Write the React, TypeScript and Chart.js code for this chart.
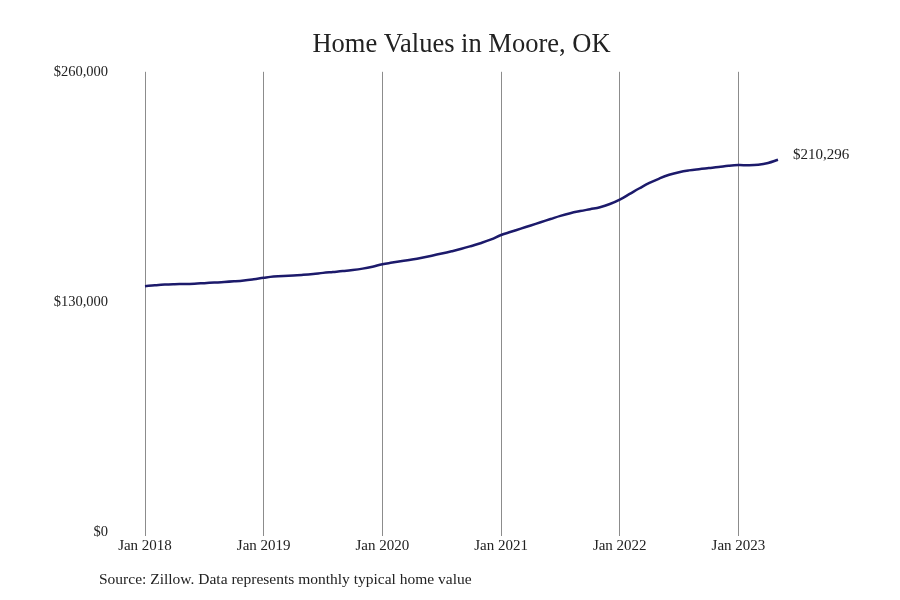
import React, { useEffect, useRef } from "react";
import { Chart, registerables } from "chart.js";

Chart.register(...registerables);

const MONTHS = ["Jan", "Feb", "Mar", "Apr", "May", "Jun", "Jul", "Aug", "Sep", "Oct", "Nov", "Dec"];
const YEARS = [2018, 2019, 2020, 2021, 2022, 2023];

// monthly typical home value, Jan 2018 .. May 2023
const values2018 = [138900, 139400, 139800, 140000, 140100, 140300, 140600, 140900, 141200, 141600, 142100, 142800];
const values2019 = [143600, 144300, 144700, 144900, 145300, 145800, 146400, 146900, 147400, 148000, 148800, 149900];
const values2020 = [151300, 152200, 153100, 154000, 155000, 156100, 157300, 158600, 160000, 161600, 163300, 165300];
const values2021 = [167800, 169600, 171400, 173200, 175000, 176800, 178600, 180100, 181300, 182400, 183500, 185300];
const values2022 = [187800, 191000, 194200, 197200, 199700, 201800, 203300, 204300, 205000, 205600, 206200, 206900];
const values2023 = [207300, 207200, 207500, 208500, 210296];

const yTicks = [0, 130000, 260000];

const values = [...values2018, ...values2019, ...values2020, ...values2021, ...values2022, ...values2023];
const labels = values.map((_, i) => `${MONTHS[i % 12]} ${YEARS[Math.floor(i / 12)]}`);

const SERIF = "'Liberation Serif', serif";
const TEXT = "#222222";
const LINE = "#1c1a6b";

const fmt = (v: number) => "$" + v.toLocaleString("en-US");

const extras = {
  id: "extras",
  afterDraw(chart: any) {
    const { ctx } = chart;
    const meta = chart.getDatasetMeta(0);
    const last = meta.data[meta.data.length - 1];
    ctx.save();
    ctx.fillStyle = TEXT;
    ctx.font = `15px ${SERIF}`;
    ctx.textBaseline = "middle";
    ctx.textAlign = "left";
    ctx.fillText(fmt(values[values.length - 1]), last.x + 15, last.y - 5);
    ctx.font = `15.5px ${SERIF}`;
    ctx.fillText("Source: Zillow. Data represents monthly typical home value", 99, 580);
    ctx.restore();
  },
};

export default function App() {
  const ref = useRef<HTMLCanvasElement>(null);

  useEffect(() => {
    document.body.style.margin = "0";
    const ctx = ref.current?.getContext("2d");
    if (!ctx) return;
    const chart = new Chart(ctx, {
      type: "line",
      data: {
        labels,
        datasets: [
          {
            data: values,
            borderColor: LINE,
            borderWidth: 2.5,
            pointRadius: 0,
            tension: 0.4,
            fill: false,
          },
        ],
      },
      options: {
        animation: false,
        responsive: false,
        layout: { padding: { left: 0, right: 122, top: 0, bottom: 44 } },
        plugins: {
          legend: { display: false },
          tooltip: { enabled: false },
          title: {
            display: true,
            fullSize: false,
            text: "Home Values in Moore, OK",
            color: TEXT,
            font: { family: SERIF, size: 26.5, weight: "normal" },
            padding: { top: 29, bottom: 11 },
          },
        },
        scales: {
          x: {
            border: { display: false },
            grid: {
              color: (c: any) => (c.index % 12 === 0 ? "#8c8c8c" : "rgba(0,0,0,0)"),
              lineWidth: 1,
              tickLength: 4,
            },
            ticks: {
              autoSkip: false,
              maxRotation: 0,
              padding: 1,
              color: TEXT,
              font: { family: SERIF, size: 15 },
              callback: (_v: any, i: number) => (i % 12 === 0 ? labels[i] : ""),
            },
          },
          y: {
            min: 0,
            max: 260000,
            afterBuildTicks: (s: any) => {
              s.ticks = yTicks.map((v) => ({ value: v }));
            },
            afterFit: (s: any) => {
              s.width = 145;
            },
            border: { display: false },
            grid: { display: false, drawTicks: false },
            ticks: {
              padding: 37,
              color: TEXT,
              font: { family: SERIF, size: 14.5 },
              callback: (v: any) => fmt(Number(v)),
            },
          },
        },
      },
      plugins: [extras],
    });
    return () => chart.destroy();
  }, []);

  return (
    <div style={{ width: 900, height: 600, background: "#fff" }}>
      <canvas ref={ref} width={900} height={600} style={{ width: 900, height: 600 }} />
    </div>
  );
}
